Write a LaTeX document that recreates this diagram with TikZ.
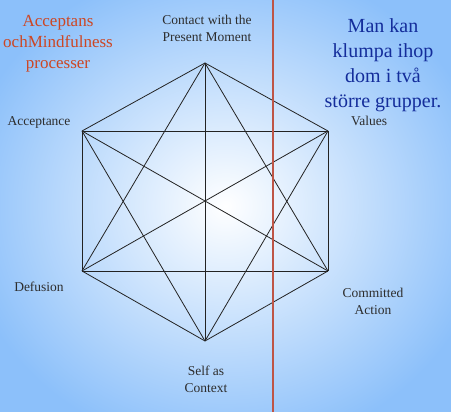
\documentclass[tikz,border=0pt]{standalone}
\usepackage{fontspec}
\setmainfont{Liberation Serif}
\definecolor{bgblue}{RGB}{140,192,250}
\definecolor{redtxt}{RGB}{205,70,35}
\definecolor{redline}{RGB}{190,85,70}
\definecolor{bluetxt}{RGB}{20,45,155}
\definecolor{labtxt}{RGB}{45,45,45}
\definecolor{edge}{RGB}{35,35,35}
\tikzset{
  lab/.style={text=labtxt, align=center, inner sep=0pt, font=\fontsize{13.5}{17}\selectfont},
  redlab/.style={text=redtxt, align=center, inner sep=0pt, font=\fontsize{17}{21}\selectfont},
  bluelab/.style={text=bluetxt, align=center, inner sep=0pt, font=\fontsize{20}{25}\selectfont},
  hexline/.style={draw=edge, line width=0.8pt},
}
\begin{document}
\begin{tikzpicture}[x=1pt,y=-1pt]
\useasboundingbox (0,0) rectangle (451,412);
\shade[inner color=white, outer color=bgblue] (-40,-40) rectangle (491,452);
\coordinate (T) at (205,63);
\coordinate (UR) at (328,131);
\coordinate (LR) at (328,271);
\coordinate (B) at (205,341);
\coordinate (LL) at (82,271);
\coordinate (UL) at (82,131);
\foreach \a/\b in {T/UR,T/LR,T/B,T/LL,T/UL,UR/LR,UR/B,UR/LL,UR/UL,LR/B,LR/LL,LR/UL,B/LL,B/UL,LL/UL}
  \draw[hexline] (\a) -- (\b);
\coordinate (rt) at (273,0);
\coordinate (rb) at (273,412);
\draw[redline, line width=1.3pt] (rt) -- (rb);
\node[redlab] (proc) at (58,44) {Acceptans\\ochMindfulness\\processer};
\node[bluelab] (grp) at (383,65) {Man kan\\klumpa ihop\\dom i två\\större grupper.};
\node[lab] (cpm) at (207,28.5) {Contact with the\\Present Moment};
\node[lab] (val) at (369,121) {Values};
\node[lab] (acc) at (39,122) {Acceptance};
\node[lab] (def) at (39,287) {Defusion};
\node[lab] (com) at (373,301.5) {Committed\\Action};
\node[lab] (sac) at (206,379) {Self as\\Context};
\end{tikzpicture}
\end{document}
